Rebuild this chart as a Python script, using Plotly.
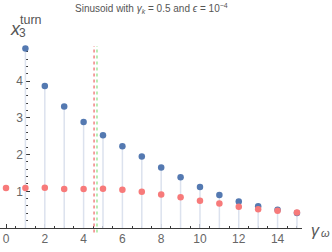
import plotly.graph_objects as go

# data
blue_x = list(range(1, 16))
blue_y = [4.89, 3.87, 3.31, 2.89, 2.53, 2.23, 1.95, 1.65, 1.38, 1.12, 0.90, 0.72, 0.59, 0.50, 0.41]
red_x = list(range(0, 16))
red_y = [1.09, 1.09, 1.10, 1.06, 1.06, 1.07, 1.04, 0.99, 0.91, 0.84, 0.74, 0.67, 0.58, 0.51, 0.47, 0.42]
vline_red = 4.54
vline_green = 4.69
x_ticks = [0, 2, 4, 6, 8, 10, 12, 14]
y_ticks = [1, 2, 3, 4]

XR = [-0.31, 15.26]
YR = [0, 4.96]

fig = go.Figure()
fig.add_trace(go.Scatter(
    x=blue_x, y=blue_y, mode="markers",
    marker=dict(color="#5479b1", size=6.5),
    error_y=dict(type="data", symmetric=False, array=[0] * len(blue_y),
                 arrayminus=blue_y, width=0, color="#dce2ee", thickness=1.5),
    cliponaxis=False, showlegend=False))
fig.add_trace(go.Scatter(
    x=red_x, y=red_y, mode="markers",
    marker=dict(color="#f77a7a", size=6.5),
    cliponaxis=False, showlegend=False))

for xv, col in [(vline_red, "#f08a8a"), (vline_green, "#a6e8a0")]:
    fig.add_shape(type="line", xref="x", yref="paper", x0=xv, x1=xv, y0=-0.025, y1=1.0,
                  line=dict(color=col, width=1.6, dash="3px,3px"), layer="above")

axcol = "#3a3a3a"
fig.update_layout(
    width=332, height=252,
    margin=dict(l=0, r=30, t=46, b=24),
    paper_bgcolor="white", plot_bgcolor="white",
    font=dict(family="Liberation Sans, Arial, sans-serif", size=12, color="#666"),
    xaxis=dict(range=XR, showgrid=False, zeroline=False, showline=True, linecolor=axcol,
               linewidth=1, ticks="inside", ticklen=4, tickcolor=axcol, tickvals=x_ticks,
               tickfont=dict(size=12, color="#666"), layer="below traces",
               minor=dict(dtick=0.5, tick0=0, ticks="inside", ticklen=2, tickcolor=axcol, showgrid=False)),
    yaxis=dict(range=YR, showgrid=False, zeroline=False, showline=True, linecolor=axcol,
               linewidth=1, ticks="inside", ticklen=4, tickcolor=axcol, tickvals=y_ticks,
               anchor="free", position=(1 - XR[0]) / (XR[1] - XR[0]),
               tickfont=dict(size=12, color="#666"), layer="below traces",
               minor=dict(dtick=0.2, tick0=0, ticks="inside", ticklen=2, tickcolor=axcol, showgrid=False)),
)

tc = "#555"
fig.add_annotation(text="Sinusoid with <i>γ</i><sub><i>k</i></sub> = 0.5 and <i>ϵ</i> = 10<sup>−4</sup>",
                   xref="paper", yref="paper", x=151 / 302, y=(252 - 24 - 8) / 182, showarrow=False,
                   font=dict(size=10, color=tc), xanchor="center", yanchor="middle")

def px_ann(text, px, py, size, xanchor="left"):
    fig.add_annotation(text=text, xref="paper", yref="paper",
                       x=px / 302, y=(228 - py) / 182, showarrow=False,
                       font=dict(size=size, color=tc), xanchor=xanchor, yanchor="middle")

px_ann("<i>x</i>", 8, 29, 18)
px_ann("3", 17, 33, 12)
px_ann("turn", 17.5, 20, 12.5)
px_ann("<i>γ</i>", 309, 230, 16)
px_ann("<i>ω</i>", 319, 233, 11)

fig.write_html("out.html", config={"displayModeBar": False},
               post_script="document.body.style.margin='0';")
